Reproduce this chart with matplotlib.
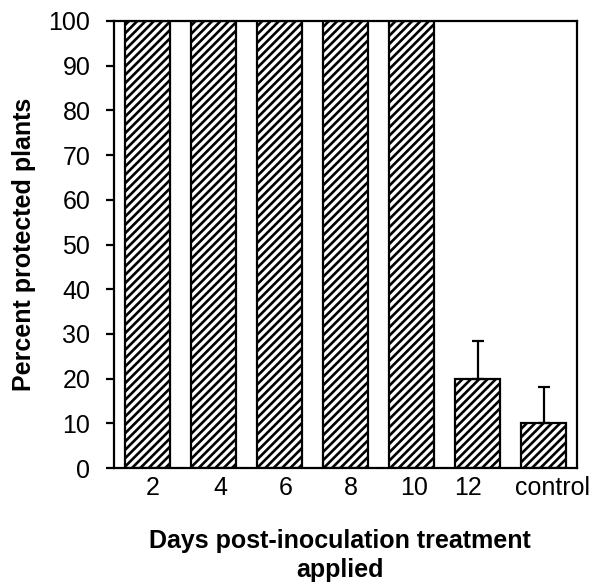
import matplotlib
matplotlib.use("Agg")
import matplotlib.pyplot as plt
import matplotlib.transforms as mtransforms

plt.rcParams['font.family'] = ['Liberation Sans', 'DejaVu Sans']
plt.rcParams['hatch.linewidth'] = 1.9

days = ['2', '4', '6', '8', '10', '12', 'control']
protected = [100, 100, 100, 100, 100, 20, 10]
err_up = [0, 0, 0, 0, 0, 8.3, 8.2]

fig = plt.figure(figsize=(5.94, 5.83), dpi=100)
ax = fig.add_axes([114/594, 1 - 468/583, (577-114)/594, (468-21)/583])

x = range(len(days))
ax.bar(x, protected, width=0.68, color='white', edgecolor='black',
       linewidth=1.6, hatch='////')
ax.errorbar([5, 6], protected[5:], yerr=[[0, 0], err_up[5:]], fmt='none',
            ecolor='black', elinewidth=1.6, capsize=4, capthick=1.6)

ax.set_xlim(-0.5, 6.5)
ax.set_ylim(0, 100)
ax.set_yticks(range(0, 101, 10))
ax.set_xticks(list(x))
ax.set_xticklabels(days)
ax.tick_params(axis='y', direction='out', length=6, width=1.6, labelsize=18, pad=11)
ax.tick_params(axis='x', length=0, labelsize=18, pad=6)

# labels sit a little off the bar centres in the original
offsets = [6, 7, 6, 5, 2, -10, 9]
for lab, dx in zip(ax.get_xticklabels(), offsets):
    lab.set_transform(lab.get_transform() +
                      mtransforms.ScaledTranslation(dx/100, 0, fig.dpi_scale_trans))

for s in ax.spines.values():
    s.set_linewidth(1.6)

ax.set_ylabel('Percent protected plants', fontsize=18, fontweight='bold', labelpad=9)
ax.set_xlabel('Days post-inoculation treatment\napplied', fontsize=18,
              fontweight='bold', linespacing=1.3)
ax.xaxis.set_label_coords(0.488, -0.136)

fig.savefig('out.png', dpi=100)
